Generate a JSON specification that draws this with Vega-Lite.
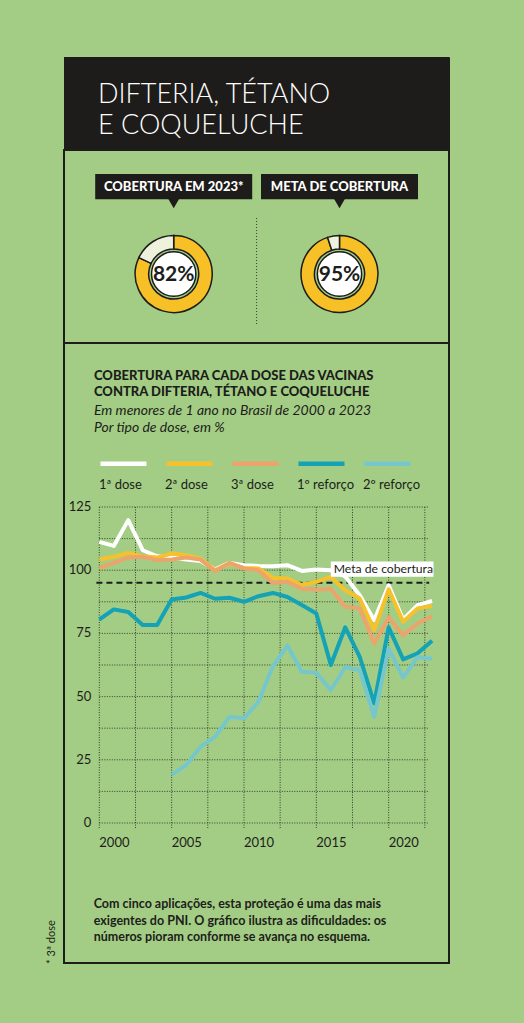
{
  "$schema": "https://vega.github.io/schema/vega-lite/v6.json",
  "background": "#a3cd84",
  "padding": {"left": 44, "top": 56, "right": 76, "bottom": 59},
  "spacing": 0,
  "bounds": "flush",
  "resolve": {"scale": {"color": "independent"}, "legend": {"color": "independent"}},
  "config": {
    "font": "Lato",
    "view": {"stroke": "#1d1d1b", "strokeWidth": 2}
  },
  "datasets": {
    "coberturas": [
      {"painel": "COBERTURA EM 2023*", "parte": "coberto", "pct": 82},
      {"painel": "COBERTURA EM 2023*", "parte": "restante", "pct": 18},
      {"painel": "META DE COBERTURA", "parte": "coberto", "pct": 95},
      {"painel": "META DE COBERTURA", "parte": "restante", "pct": 5}
    ],
    "grade_anos": [
      {"ano": 2000}, {"ano": 2002.5}, {"ano": 2005}, {"ano": 2007.5}, {"ano": 2010},
      {"ano": 2012.5}, {"ano": 2015}, {"ano": 2017.5}, {"ano": 2020}, {"ano": 2022.5}
    ],
    "grade_valores": [
      {"valor": 0}, {"valor": 12.5}, {"valor": 25}, {"valor": 37.5}, {"valor": 50}, {"valor": 62.5},
      {"valor": 75}, {"valor": 87.5}, {"valor": 100}, {"valor": 112.5}, {"valor": 125}
    ],
    "doses": [
      {"ano": 2000, "dose": "1ª dose", "cobertura": 111.2},
      {"ano": 2001, "dose": "1ª dose", "cobertura": 109.6},
      {"ano": 2002, "dose": "1ª dose", "cobertura": 119.8},
      {"ano": 2003, "dose": "1ª dose", "cobertura": 107.9},
      {"ano": 2004, "dose": "1ª dose", "cobertura": 105.5},
      {"ano": 2005, "dose": "1ª dose", "cobertura": 105.0},
      {"ano": 2006, "dose": "1ª dose", "cobertura": 104.2},
      {"ano": 2007, "dose": "1ª dose", "cobertura": 103.6},
      {"ano": 2008, "dose": "1ª dose", "cobertura": 100.3},
      {"ano": 2009, "dose": "1ª dose", "cobertura": 102.9},
      {"ano": 2010, "dose": "1ª dose", "cobertura": 102.0},
      {"ano": 2011, "dose": "1ª dose", "cobertura": 101.7},
      {"ano": 2012, "dose": "1ª dose", "cobertura": 101.6},
      {"ano": 2013, "dose": "1ª dose", "cobertura": 102.0},
      {"ano": 2014, "dose": "1ª dose", "cobertura": 99.7},
      {"ano": 2015, "dose": "1ª dose", "cobertura": 100.3},
      {"ano": 2016, "dose": "1ª dose", "cobertura": 100.0},
      {"ano": 2017, "dose": "1ª dose", "cobertura": 97.5},
      {"ano": 2018, "dose": "1ª dose", "cobertura": 90.1},
      {"ano": 2019, "dose": "1ª dose", "cobertura": 80.2},
      {"ano": 2020, "dose": "1ª dose", "cobertura": 94.0},
      {"ano": 2021, "dose": "1ª dose", "cobertura": 80.5},
      {"ano": 2022, "dose": "1ª dose", "cobertura": 86.2},
      {"ano": 2023, "dose": "1ª dose", "cobertura": 87.8},
      {"ano": 2000, "dose": "2ª dose", "cobertura": 104.2},
      {"ano": 2001, "dose": "2ª dose", "cobertura": 105.3},
      {"ano": 2002, "dose": "2ª dose", "cobertura": 106.8},
      {"ano": 2003, "dose": "2ª dose", "cobertura": 105.5},
      {"ano": 2004, "dose": "2ª dose", "cobertura": 105.0},
      {"ano": 2005, "dose": "2ª dose", "cobertura": 106.6},
      {"ano": 2006, "dose": "2ª dose", "cobertura": 105.9},
      {"ano": 2007, "dose": "2ª dose", "cobertura": 104.6},
      {"ano": 2008, "dose": "2ª dose", "cobertura": 100.0},
      {"ano": 2009, "dose": "2ª dose", "cobertura": 102.6},
      {"ano": 2010, "dose": "2ª dose", "cobertura": 100.9},
      {"ano": 2011, "dose": "2ª dose", "cobertura": 100.7},
      {"ano": 2012, "dose": "2ª dose", "cobertura": 96.9},
      {"ano": 2013, "dose": "2ª dose", "cobertura": 96.7},
      {"ano": 2014, "dose": "2ª dose", "cobertura": 94.1},
      {"ano": 2015, "dose": "2ª dose", "cobertura": 95.4},
      {"ano": 2016, "dose": "2ª dose", "cobertura": 97.4},
      {"ano": 2017, "dose": "2ª dose", "cobertura": 92.1},
      {"ano": 2018, "dose": "2ª dose", "cobertura": 88.8},
      {"ano": 2019, "dose": "2ª dose", "cobertura": 76.3},
      {"ano": 2020, "dose": "2ª dose", "cobertura": 92.4},
      {"ano": 2021, "dose": "2ª dose", "cobertura": 79.6},
      {"ano": 2022, "dose": "2ª dose", "cobertura": 84.9},
      {"ano": 2023, "dose": "2ª dose", "cobertura": 85.8},
      {"ano": 2000, "dose": "3ª dose", "cobertura": 100.9},
      {"ano": 2001, "dose": "3ª dose", "cobertura": 102.9},
      {"ano": 2002, "dose": "3ª dose", "cobertura": 105.0},
      {"ano": 2003, "dose": "3ª dose", "cobertura": 105.3},
      {"ano": 2004, "dose": "3ª dose", "cobertura": 104.0},
      {"ano": 2005, "dose": "3ª dose", "cobertura": 104.2},
      {"ano": 2006, "dose": "3ª dose", "cobertura": 105.0},
      {"ano": 2007, "dose": "3ª dose", "cobertura": 104.2},
      {"ano": 2008, "dose": "3ª dose", "cobertura": 99.6},
      {"ano": 2009, "dose": "3ª dose", "cobertura": 102.9},
      {"ano": 2010, "dose": "3ª dose", "cobertura": 100.7},
      {"ano": 2011, "dose": "3ª dose", "cobertura": 100.0},
      {"ano": 2012, "dose": "3ª dose", "cobertura": 94.8},
      {"ano": 2013, "dose": "3ª dose", "cobertura": 95.4},
      {"ano": 2014, "dose": "3ª dose", "cobertura": 92.7},
      {"ano": 2015, "dose": "3ª dose", "cobertura": 92.4},
      {"ano": 2016, "dose": "3ª dose", "cobertura": 92.7},
      {"ano": 2017, "dose": "3ª dose", "cobertura": 85.5},
      {"ano": 2018, "dose": "3ª dose", "cobertura": 84.9},
      {"ano": 2019, "dose": "3ª dose", "cobertura": 71.0},
      {"ano": 2020, "dose": "3ª dose", "cobertura": 81.3},
      {"ano": 2021, "dose": "3ª dose", "cobertura": 74.3},
      {"ano": 2022, "dose": "3ª dose", "cobertura": 78.9},
      {"ano": 2023, "dose": "3ª dose", "cobertura": 81.8},
      {"ano": 2000, "dose": "1º reforço", "cobertura": 80.5},
      {"ano": 2001, "dose": "1º reforço", "cobertura": 84.5},
      {"ano": 2002, "dose": "1º reforço", "cobertura": 83.5},
      {"ano": 2003, "dose": "1º reforço", "cobertura": 78.3},
      {"ano": 2004, "dose": "1º reforço", "cobertura": 78.3},
      {"ano": 2005, "dose": "1º reforço", "cobertura": 88.4},
      {"ano": 2006, "dose": "1º reforço", "cobertura": 89.2},
      {"ano": 2007, "dose": "1º reforço", "cobertura": 91.0},
      {"ano": 2008, "dose": "1º reforço", "cobertura": 88.7},
      {"ano": 2009, "dose": "1º reforço", "cobertura": 89.1},
      {"ano": 2010, "dose": "1º reforço", "cobertura": 87.5},
      {"ano": 2011, "dose": "1º reforço", "cobertura": 89.7},
      {"ano": 2012, "dose": "1º reforço", "cobertura": 91.0},
      {"ano": 2013, "dose": "1º reforço", "cobertura": 89.4},
      {"ano": 2014, "dose": "1º reforço", "cobertura": 86.2},
      {"ano": 2015, "dose": "1º reforço", "cobertura": 82.9},
      {"ano": 2016, "dose": "1º reforço", "cobertura": 62.5},
      {"ano": 2017, "dose": "1º reforço", "cobertura": 77.4},
      {"ano": 2018, "dose": "1º reforço", "cobertura": 65.7},
      {"ano": 2019, "dose": "1º reforço", "cobertura": 47.3},
      {"ano": 2020, "dose": "1º reforço", "cobertura": 77.4},
      {"ano": 2021, "dose": "1º reforço", "cobertura": 64.7},
      {"ano": 2022, "dose": "1º reforço", "cobertura": 67.1},
      {"ano": 2023, "dose": "1º reforço", "cobertura": 72.1},
      {"ano": 2005, "dose": "2º reforço", "cobertura": 19.0},
      {"ano": 2006, "dose": "2º reforço", "cobertura": 22.9},
      {"ano": 2007, "dose": "2º reforço", "cobertura": 30.2},
      {"ano": 2008, "dose": "2º reforço", "cobertura": 34.1},
      {"ano": 2009, "dose": "2º reforço", "cobertura": 42.0},
      {"ano": 2010, "dose": "2º reforço", "cobertura": 41.4},
      {"ano": 2011, "dose": "2º reforço", "cobertura": 48.0},
      {"ano": 2012, "dose": "2º reforço", "cobertura": 62.0},
      {"ano": 2013, "dose": "2º reforço", "cobertura": 70.2},
      {"ano": 2014, "dose": "2º reforço", "cobertura": 59.8},
      {"ano": 2015, "dose": "2º reforço", "cobertura": 59.4},
      {"ano": 2016, "dose": "2º reforço", "cobertura": 52.6},
      {"ano": 2017, "dose": "2º reforço", "cobertura": 61.6},
      {"ano": 2018, "dose": "2º reforço", "cobertura": 60.5},
      {"ano": 2019, "dose": "2º reforço", "cobertura": 42.0},
      {"ano": 2020, "dose": "2º reforço", "cobertura": 69.0},
      {"ano": 2021, "dose": "2º reforço", "cobertura": 57.5},
      {"ano": 2022, "dose": "2º reforço", "cobertura": 65.6},
      {"ano": 2023, "dose": "2º reforço", "cobertura": 65.0}
    ]
  },
  "vconcat": [
    {
      "width": 385,
      "height": 93,
      "data": {"values": [{"secao": "cabecalho"}]},
      "view": {"stroke": "#1d1c1a"},
      "title": {
        "text": ["DIFTERIA, TÉTANO", "E COQUELUCHE"],
        "anchor": "start",
        "frame": "group",
        "dx": 34,
        "offset": -83,
        "baseline": "top",
        "font": "Lato",
        "fontSize": 27,
        "fontWeight": 300,
        "lineHeight": 31,
        "color": "#ffffff"
      },
      "mark": {"type": "rect", "color": "#1d1c1a"}
    },
    {
      "width": 385,
      "height": 193,
      "data": {"name": "coberturas"},
      "layer": [
        {
          "transform": [{"filter": "datum.parte === 'coberto'"}],
          "mark": {"type": "bar", "width": 157, "color": "#1d1c1a"},
          "encoding": {
            "x": {"field": "painel", "type": "nominal", "axis": null,
                  "scale": {"type": "point", "domain": ["COBERTURA EM 2023*", "divisor", "META DE COBERTURA"],
                            "range": [109.7, 275.5], "padding": 0}},
            "y": {"datum": 24, "axis": null, "scale": {"domain": [0, 193], "reverse": true, "nice": false, "zero": false}},
            "y2": {"datum": 49.3}
          }
        },
        {
          "transform": [{"filter": "datum.parte === 'coberto'"}],
          "mark": {"type": "point", "shape": "triangle-down", "filled": true, "color": "#1d1c1a", "opacity": 1, "size": 324},
          "encoding": {
            "x": {"field": "painel", "type": "nominal", "axis": null},
            "y": {"datum": 50.5, "axis": null}
          }
        },
        {
          "transform": [{"filter": "datum.parte === 'coberto'"}],
          "mark": {"type": "text", "color": "#ffffff", "fontWeight": 900, "fontSize": 13, "baseline": "middle"},
          "encoding": {
            "x": {"field": "painel", "type": "nominal", "axis": null},
            "y": {"datum": 37, "axis": null},
            "text": {"field": "painel"}
          }
        },
        {
          "transform": [{"stack": "pct", "groupby": ["painel"], "sort": [{"field": "parte"}], "as": ["t0", "t1"]}],
          "mark": {"type": "arc", "outerRadius": 38.5, "innerRadius": 25, "stroke": "#1d1d1b", "strokeWidth": 1.5},
          "encoding": {
            "x": {"field": "painel", "type": "nominal", "axis": null},
            "y": {"datum": 124, "axis": null},
            "theta": {"field": "t0", "type": "quantitative", "scale": {"domain": [0, 100]}},
            "theta2": {"field": "t1"},
            "fill": {"condition": {"test": "datum.parte === 'coberto'", "value": "#f6c026"}, "value": "#eef2dc"}
          }
        },
        {
          "transform": [{"filter": "datum.parte === 'coberto'"}],
          "mark": {"type": "circle", "fill": "#ffffff", "stroke": "#1d1d1b", "strokeWidth": 1.5, "opacity": 1, "size": 1963},
          "encoding": {
            "x": {"field": "painel", "type": "nominal", "axis": null},
            "y": {"datum": 124, "axis": null}
          }
        },
        {
          "transform": [
            {"filter": "datum.parte === 'coberto'"},
            {"calculate": "datum.pct + '%'", "as": "rotulo"}
          ],
          "mark": {"type": "text", "color": "#1d1d1b", "fontWeight": "bold", "fontSize": 21, "baseline": "middle"},
          "encoding": {
            "x": {"field": "painel", "type": "nominal", "axis": null},
            "y": {"datum": 125, "axis": null},
            "text": {"field": "rotulo"}
          }
        },
        {
          "data": {"values": [{"item": "divisor"}]},
          "mark": {"type": "rule", "color": "#3a3a36", "strokeWidth": 1, "strokeDash": [1, 2]},
          "encoding": {
            "x": {"field": "item", "type": "nominal", "axis": null},
            "y": {"datum": 68, "axis": null},
            "y2": {"datum": 175}
          }
        }
      ]
    },
    {
      "width": 385,
      "height": 620,
      "title": {
        "text": ["COBERTURA PARA CADA DOSE DAS VACINAS", "CONTRA DIFTERIA, TÉTANO E COQUELUCHE"],
        "subtitle": ["Em menores de 1 ano no Brasil de 2000 a 2023", "Por tipo de dose, em %"],
        "anchor": "start",
        "frame": "group",
        "dx": 30,
        "offset": -92,
        "baseline": "top",
        "font": "Lato",
        "fontSize": 13,
        "fontWeight": 900,
        "lineHeight": 16.5,
        "color": "#1d1d1b",
        "subtitleFont": "Lato",
        "subtitleFontSize": 14,
        "subtitleFontStyle": "italic",
        "subtitleLineHeight": 17,
        "subtitleColor": "#1d1d1b",
        "subtitlePadding": 5
      },
      "layer": [
        {
          "data": {"name": "grade_anos"},
          "mark": {"type": "rule", "color": "#34402c", "strokeWidth": 1, "strokeDash": [1, 1.5]},
          "encoding": {
            "x": {"field": "ano", "type": "quantitative", "axis": null,
                  "scale": {"domain": [1997.56, 2024.17], "nice": false, "zero": false}},
            "y": {"datum": -2, "axis": null,
                  "scale": {"domain": [-55.38, 189.87], "nice": false, "zero": false}},
            "y2": {"datum": 125}
          }
        },
        {
          "data": {"name": "grade_valores"},
          "mark": {"type": "rule", "color": "#34402c", "strokeWidth": 1, "strokeDash": [1, 1.5]},
          "encoding": {
            "y": {"field": "valor", "type": "quantitative", "axis": null},
            "x": {"datum": 2000, "axis": null},
            "x2": {"datum": 2022.8}
          }
        },
        {
          "data": {"name": "grade_valores"},
          "transform": [{"filter": "datum.valor % 25 === 0"}],
          "mark": {"type": "text", "align": "right", "baseline": "middle", "fontSize": 13, "color": "#1d1d1b"},
          "encoding": {
            "y": {"field": "valor", "type": "quantitative", "axis": null},
            "x": {"datum": 1999.45, "axis": null},
            "text": {"field": "valor", "type": "quantitative", "format": "d"}
          }
        },
        {
          "data": {"name": "grade_anos"},
          "transform": [{"filter": "datum.ano % 5 === 0"}],
          "mark": {"type": "text", "align": "left", "baseline": "middle", "fontSize": 13, "color": "#1d1d1b"},
          "encoding": {
            "x": {"field": "ano", "type": "quantitative", "axis": null},
            "y": {"datum": -7.9, "axis": null},
            "text": {"field": "ano", "type": "quantitative", "format": "d"}
          }
        },
        {
          "data": {"values": [{"rotulo": "Meta de cobertura", "meta": 95}]},
          "mark": {"type": "rule", "color": "#1d1d1b", "strokeWidth": 2, "strokeDash": [6, 4]},
          "encoding": {
            "y": {"field": "meta", "type": "quantitative", "axis": null},
            "x": {"datum": 1999.8, "axis": null},
            "x2": {"datum": 2022.8}
          }
        },
        {
          "data": {"name": "doses"},
          "mark": {"type": "line", "strokeWidth": 4, "strokeJoin": "round"},
          "encoding": {
            "x": {"field": "ano", "type": "quantitative", "axis": null},
            "y": {"field": "cobertura", "type": "quantitative", "axis": null},
            "color": {
              "field": "dose", "type": "nominal",
              "scale": {
                "domain": ["1ª dose", "2ª dose", "3ª dose", "1º reforço", "2º reforço"],
                "range": ["#ffffff", "#f7c12c", "#eca46c", "#14a2b6", "#76c7cc"]
              },
              "legend": {
                "orient": "none", "legendX": 34, "legendY": 95, "direction": "horizontal",
                "title": null, "padding": 0,
                "symbolType": "stroke", "symbolSize": 2116, "symbolStrokeWidth": 4.5,
                "labelExpr": "['', datum.label]", "labelBaseline": "top", "labelAlign": "left",
                "labelOffset": -50, "columnPadding": 0, "gridAlign": "all",
                "labelFont": "Lato", "labelFontSize": 13, "labelColor": "#1d1d1b"
              }
            }
          }
        },
        {
          "data": {"values": [{"rotulo": "Meta de cobertura", "meta": 95}]},
          "mark": {"type": "rect", "color": "#ffffff", "opacity": 1},
          "encoding": {
            "x": {"datum": 2016.0, "axis": null},
            "x2": {"datum": 2023.1},
            "y": {"datum": 97.4, "axis": null},
            "y2": {"datum": 103.4}
          }
        },
        {
          "data": {"values": [{"rotulo": "Meta de cobertura", "meta": 95}]},
          "mark": {"type": "text", "align": "left", "baseline": "middle", "fontSize": 12.2, "color": "#1d1d1b"},
          "encoding": {
            "x": {"datum": 2016.2, "axis": null},
            "y": {"datum": 100.4, "axis": null},
            "text": {"field": "rotulo"}
          }
        },
        {
          "data": {"values": [{"nota": "Com cinco aplicações, esta proteção é uma das mais\nexigentes do PNI. O gráfico ilustra as dificuldades: os\nnúmeros pioram conforme se avança no esquema."}]},
          "mark": {"type": "text", "align": "left", "baseline": "alphabetic", "lineBreak": "\n", "lineHeight": 16.3,
                   "fontSize": 12.5, "fontWeight": "bold", "color": "#1d1d1b"},
          "encoding": {
            "x": {"datum": 1999.61, "axis": null},
            "y": {"datum": -33.74, "axis": null},
            "text": {"field": "nota"}
          }
        },
        {
          "data": {"values": [{"nota": "* 3ª dose"}]},
          "mark": {"type": "text", "align": "center", "baseline": "middle", "angle": 270, "fontSize": 11, "color": "#1d1d1b"},
          "encoding": {
            "x": {"datum": 1996.73, "axis": null},
            "y": {"datum": -47.1, "axis": null},
            "text": {"field": "nota"}
          }
        }
      ]
    }
  ]
}
